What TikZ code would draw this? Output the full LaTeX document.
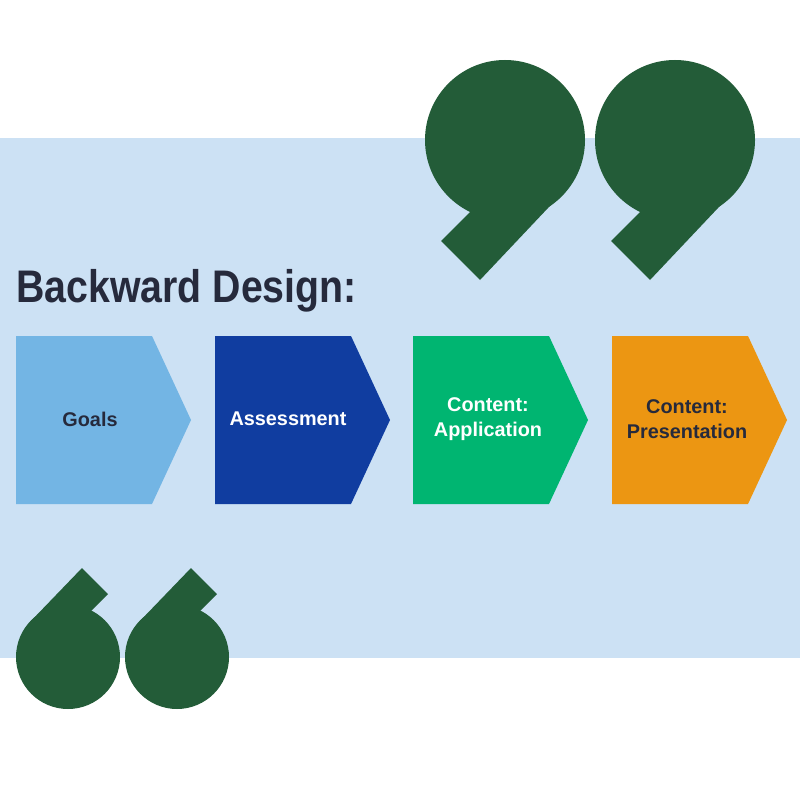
\documentclass[tikz,border=0pt]{standalone}
\usepackage{fontspec}
\setmainfont{Liberation Sans}
\usepackage{xcolor}
\definecolor{fond}{HTML}{CCE1F4}
\definecolor{vert}{HTML}{235C38}
\definecolor{encre}{HTML}{262A3C}
\definecolor{ciel}{HTML}{73B5E4}
\definecolor{marine}{HTML}{103DA0}
\definecolor{menthe}{HTML}{00B571}
\definecolor{orange}{HTML}{EC9612}
\begin{document}
\begin{tikzpicture}[x=0.02cm,y=-0.02cm]
% Styles
\tikzstyle{etiquette}=[font=\bfseries\fontsize{11.3}{14}\selectfont,align=center]
\tikzstyle{guillemet}=[fill=vert]
% Fond
\useasboundingbox (0,0) rectangle (800,800);
\fill[fond] (0,138) rectangle (800,658);
% Guillemets fermants
\foreach \dx in {0,170}{
  \fill[guillemet] (505+\dx,140) circle (80);
  \fill[guillemet] (565+\dx,190) -- (480+\dx,280) -- (441+\dx,241) -- (490+\dx,192) -- cycle;
}
% Guillemets ouvrants
\foreach \dx in {0,109}{
  \fill[guillemet] (68+\dx,657) circle (52);
  \fill[guillemet] (30+\dx,622) -- (82+\dx,568) -- (108+\dx,594) -- (80+\dx,622) -- cycle;
}
% Titre
\node[anchor=base west,inner sep=0pt,text=encre,xscale=0.86,font=\bfseries\fontsize{26}{30}\selectfont] (titre) at (16,302) {Backward Design:};
% Chevrons
\def\Chevron#1#2{\fill[#2] (#1,336) -- (#1+136,336) -- (#1+175,420) -- (#1+136,504) -- (#1,504) -- cycle;}
\Chevron{16}{ciel}
\Chevron{215}{marine}
\Chevron{413}{menthe}
\Chevron{612}{orange}
% Textes
\node[etiquette,text=encre] (goals) at (90,419) {Goals};
\node[etiquette,text=white] (assess) at (288,419) {Assessment};
\node[etiquette,text=white] (appli) at (488,419) {Content:\\Application};
\node[etiquette,text=encre] (pres) at (687,419) {Content:\\Presentation};
\end{tikzpicture}
\end{document}
